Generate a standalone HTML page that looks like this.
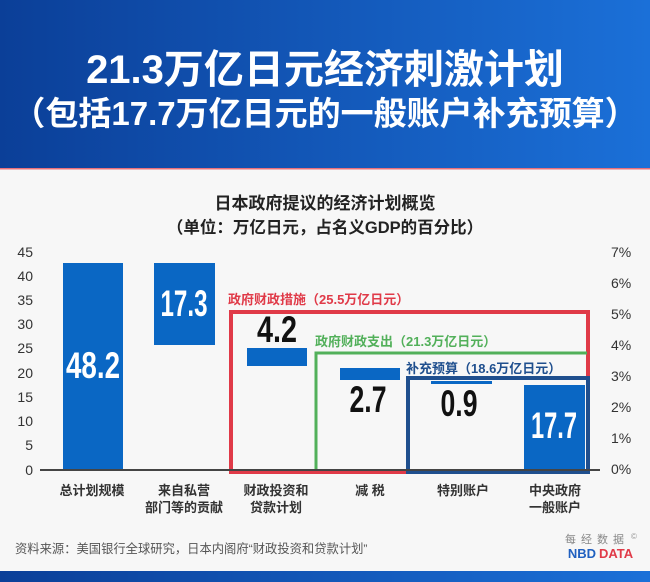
<!DOCTYPE html>
<html><head><meta charset="utf-8"><style>
html,body{margin:0;padding:0;width:650px;height:582px;overflow:hidden;background:#f7f7f7}
</style></head><body>
<svg width="650" height="582" xmlns="http://www.w3.org/2000/svg" style="display:block;font-family:'Liberation Sans','Noto Sans CJK SC',sans-serif">
<defs>
<linearGradient id="g" x1="0" x2="1" y1="0" y2="0"><stop offset="0" stop-color="#0b3f98"/><stop offset="1" stop-color="#1b70d8"/></linearGradient>
</defs>
<rect x="0" y="0" width="650" height="168" fill="url(#g)"/>
<rect x="0" y="168" width="650" height="1.5" fill="#e8707a"/>
<rect x="0" y="571" width="650" height="11" fill="url(#g)"/>
<text x="325" y="83" text-anchor="middle" font-size="40" font-weight="bold" fill="#fff">21.3万亿日元经济刺激计划</text>
<text x="325" y="125" text-anchor="middle" font-size="33" font-weight="bold" fill="#fff">（包括17.7万亿日元的一般账户补充预算）</text>
<text x="325" y="209" text-anchor="middle" font-size="17" font-weight="bold" fill="#222">日本政府提议的经济计划概览</text>
<text x="325" y="233" text-anchor="middle" font-size="16.5" font-weight="bold" fill="#222">（单位：万亿日元，占名义GDP的百分比）</text>
<g font-size="14" fill="#333">
<text x="33" y="257" text-anchor="end">45</text><text x="33" y="281" text-anchor="end">40</text>
<text x="33" y="305" text-anchor="end">35</text><text x="33" y="329" text-anchor="end">30</text>
<text x="33" y="353" text-anchor="end">25</text><text x="33" y="378" text-anchor="end">20</text>
<text x="33" y="402" text-anchor="end">15</text><text x="33" y="426" text-anchor="end">10</text>
<text x="33" y="450" text-anchor="end">5</text><text x="33" y="475" text-anchor="end">0</text>
<text x="611" y="257">7%</text><text x="611" y="288">6%</text><text x="611" y="319">5%</text>
<text x="611" y="350">4%</text><text x="611" y="381">3%</text><text x="611" y="412">2%</text>
<text x="611" y="443">1%</text><text x="611" y="474">0%</text>
</g>
<g fill="#0a67c4">
<rect x="63" y="263" width="60" height="207"/>
<rect x="154" y="263" width="61" height="82"/>
<rect x="247" y="348" width="60" height="18"/>
<rect x="340" y="368" width="60" height="12"/>
<rect x="431" y="381" width="61" height="3"/>
<rect x="524" y="385" width="61" height="85"/>
</g>
<rect x="231" y="312" width="357" height="160" fill="none" stroke="#e03a48" stroke-width="4"/>
<polyline points="316,471 316,353 587,353" fill="none" stroke="#52b05a" stroke-width="3"/>
<rect x="408" y="378" width="180" height="94" fill="none" stroke="#1f4f8e" stroke-width="4"/>
<line x1="40" y1="470" x2="600" y2="470" stroke="#444" stroke-width="2"/>
<g font-size="13" font-weight="bold">
<text x="228" y="304" fill="#e03a48">政府财政措施（25.5万亿日元）</text>
<text x="315" y="346" fill="#52b05a">政府财政支出（21.3万亿日元）</text>
<text x="406" y="373" fill="#1f4f8e">补充预算（18.6万亿日元）</text>
</g>
<g font-size="37" font-weight="bold" text-anchor="middle">
<text x="93" y="378" fill="#fff" textLength="54" lengthAdjust="spacingAndGlyphs">48.2</text>
<text x="184" y="316" fill="#fff" textLength="47" lengthAdjust="spacingAndGlyphs">17.3</text>
<text x="277" y="342" fill="#111" textLength="40" lengthAdjust="spacingAndGlyphs">4.2</text>
<text x="368" y="412" fill="#111" textLength="37" lengthAdjust="spacingAndGlyphs">2.7</text>
<text x="459" y="416" fill="#111" textLength="37" lengthAdjust="spacingAndGlyphs">0.9</text>
<text x="554" y="438" fill="#fff" textLength="46" lengthAdjust="spacingAndGlyphs">17.7</text>
</g>
<g font-size="13" font-weight="bold" fill="#333" text-anchor="middle">
<text x="92" y="495">总计划规模</text>
<text x="184" y="495">来自私营</text><text x="184" y="512">部门等的贡献</text>
<text x="276" y="495">财政投资和</text><text x="276" y="512">贷款计划</text>
<text x="370" y="495">减 税</text>
<text x="463" y="495">特别账户</text>
<text x="555" y="495">中央政府</text><text x="555" y="512">一般账户</text>
</g>
<text x="15" y="553" font-size="12.3" fill="#555">资料来源：美国银行全球研究，日本内阁府“财政投资和贷款计划”</text>
<text x="597" y="543" font-size="11" fill="#888" text-anchor="middle" letter-spacing="5">每经数据</text>
<text x="631" y="539" font-size="8" fill="#999">©</text>
<text x="596" y="558" font-size="13" font-weight="bold" fill="#2060c0" text-anchor="end">NBD</text>
<text x="599" y="558" font-size="13" font-weight="bold" fill="#e03a48">DATA</text>
</svg>
</body></html>
